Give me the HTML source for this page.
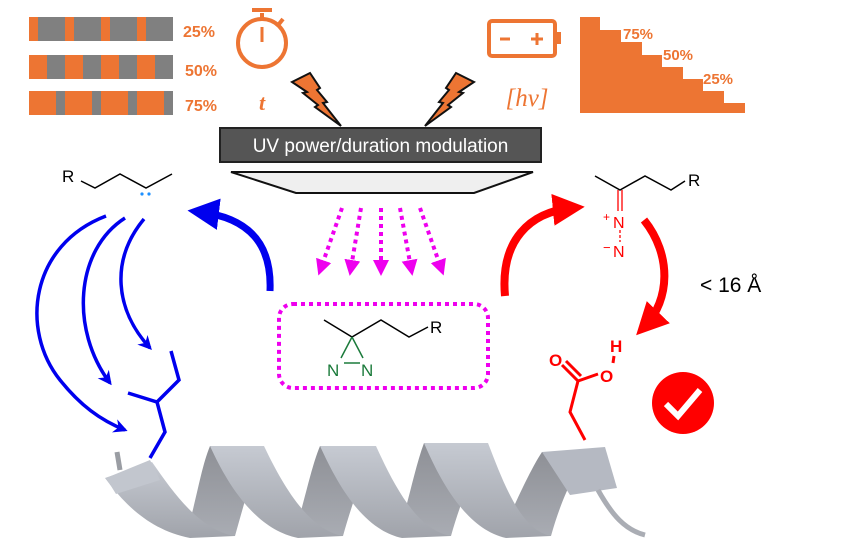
<!DOCTYPE html>
<html><head><meta charset="utf-8"><style>
html,body{margin:0;padding:0;background:#fff;}
svg{display:block;font-family:"Liberation Sans",sans-serif;}
</style></head><body>
<svg width="865" height="558" viewBox="0 0 865 558" xmlns="http://www.w3.org/2000/svg">
<defs>
<marker id="bh" viewBox="0 0 10 10" refX="8" refY="5" markerWidth="4" markerHeight="4" orient="auto"><path d="M0,0L10,5L0,10L3,5z" fill="#0000ee"/></marker>
<marker id="bh2" viewBox="0 0 10 10" refX="6" refY="5" markerWidth="4.5" markerHeight="4.5" orient="auto"><path d="M0,0L10,5L0,10z" fill="#0000ee"/></marker>
<marker id="rh" viewBox="0 0 10 10" refX="6" refY="5" markerWidth="4" markerHeight="4" orient="auto"><path d="M0,0L10,5L0,10z" fill="#ff0000"/></marker>
<marker id="mh" viewBox="0 0 10 10" refX="5" refY="5" markerWidth="4" markerHeight="4" orient="auto"><path d="M0,0L10,5L0,10z" fill="#ee00ee"/></marker>
<linearGradient id="fr" x1="0" y1="0" x2="0" y2="1"><stop offset="0" stop-color="#c6cad2"/><stop offset="1" stop-color="#a0a3aa"/></linearGradient>
<linearGradient id="bk" x1="0" y1="0" x2="0" y2="1"><stop offset="0" stop-color="#8e9096"/><stop offset="1" stop-color="#a9acb3"/></linearGradient>
</defs>

<!-- bars -->
<g>
<rect x="29" y="17" width="144" height="24" fill="#808080"/>
<rect x="29" y="17" width="9" height="24" fill="#ed7533"/><rect x="65" y="17" width="9" height="24" fill="#ed7533"/><rect x="101" y="17" width="9" height="24" fill="#ed7533"/><rect x="137" y="17" width="9" height="24" fill="#ed7533"/>
<rect x="29" y="55" width="144" height="24" fill="#808080"/>
<rect x="29" y="55" width="18" height="24" fill="#ed7533"/><rect x="65" y="55" width="18" height="24" fill="#ed7533"/><rect x="101" y="55" width="18" height="24" fill="#ed7533"/><rect x="137" y="55" width="18" height="24" fill="#ed7533"/>
<rect x="29" y="91" width="144" height="24" fill="#808080"/>
<rect x="29" y="91" width="27" height="24" fill="#ed7533"/><rect x="65" y="91" width="27" height="24" fill="#ed7533"/><rect x="101" y="91" width="27" height="24" fill="#ed7533"/><rect x="137" y="91" width="27" height="24" fill="#ed7533"/>
</g>
<g fill="#ed7533" font-weight="bold" font-size="16">
<text x="183" y="37">25%</text><text x="185" y="76">50%</text><text x="185" y="111">75%</text>
</g>
<!-- stopwatch -->
<g stroke="#ed7533" fill="none">
<circle cx="262" cy="43" r="24" stroke-width="4"/>
<line x1="262" y1="13" x2="262" y2="20" stroke-width="4"/>
<line x1="252" y1="10" x2="272" y2="10" stroke-width="4"/>
<line x1="279" y1="24" x2="283" y2="19" stroke-width="4"/>
<line x1="262" y1="27" x2="262" y2="42" stroke-width="3"/>
</g>
<text x="262" y="110" fill="#ed7533" font-family="Liberation Serif,serif" font-style="italic" font-weight="bold" font-size="22" text-anchor="middle">t</text>
<!-- battery -->
<rect x="489" y="21" width="66" height="35" rx="3" stroke="#ed7533" fill="none" stroke-width="4"/>
<rect x="556" y="32" width="5" height="12" fill="#ed7533"/>
<line x1="500" y1="39" x2="510" y2="39" stroke="#ed7533" stroke-width="3"/>
<line x1="531" y1="39" x2="543" y2="39" stroke="#ed7533" stroke-width="3"/>
<line x1="537" y1="33" x2="537" y2="45" stroke="#ed7533" stroke-width="3"/>
<text x="527" y="106" fill="#ed7533" font-family="Liberation Serif,serif" font-style="italic" font-size="25" text-anchor="middle">[hv]</text>
<!-- staircase -->
<polygon fill="#ed7533" points="580,17 600,17 600,30 621,30 621,42 642,42 642,55 662,55 662,67 683,67 683,79 703,79 703,91 724,91 724,103 745,103 745,113 580,113"/>
<g fill="#ed7533" font-weight="bold" font-size="15">
<text x="623" y="39">75%</text><text x="663" y="60">50%</text><text x="703" y="84">25%</text>
</g>
<!-- bolts -->
<g fill="#ed7533" stroke="#111" stroke-width="2">
<polygon points="292,82 310,73 320,88 317,90 327,102 323,103 341,126 315,107 318,105 303,93 307,92"/>
<polygon points="474,82 456,73 446,88 449,90 439,102 443,103 425,126 451,107 448,105 463,93 459,92"/>
</g>
<!-- UV box -->
<rect x="220" y="128" width="321" height="34" fill="#555" stroke="#222" stroke-width="2"/>
<text x="380.5" y="152" fill="#fff" font-size="19" text-anchor="middle">UV power/duration modulation</text>
<polygon points="231,172 533,172 474,193 296,193" fill="#efefef" stroke="#111" stroke-width="2"/>
<!-- magenta dotted arrows -->
<g stroke="#ee00ee" stroke-width="4" stroke-dasharray="4,4" fill="none" marker-end="url(#mh)">
<line x1="342" y1="208" x2="321" y2="268"/>
<line x1="361" y1="208" x2="351" y2="268"/>
<line x1="381" y1="208" x2="381" y2="268"/>
<line x1="400" y1="208" x2="411" y2="268"/>
<line x1="420" y1="208" x2="441" y2="268"/>
</g>
<rect x="279" y="304" width="209" height="84" rx="14" fill="none" stroke="#ee00ee" stroke-width="4" stroke-dasharray="4,4"/>
<!-- diazirine -->
<polyline points="324,320 352,337 381,320 409,337 428,327" fill="none" stroke="#000" stroke-width="1.5"/>
<text x="430" y="333" font-size="17">R</text>
<line x1="352" y1="337" x2="341" y2="358" stroke="#1a7a3a" stroke-width="1.5"/>
<line x1="352" y1="337" x2="363" y2="358" stroke="#1a7a3a" stroke-width="1.5"/>
<line x1="344" y1="363" x2="360" y2="363" stroke="#1a7a3a" stroke-width="1.5"/>
<g fill="#1a7a3a" font-size="17"><text x="327" y="376">N</text><text x="361" y="376">N</text></g>
<!-- left carbene -->
<text x="62" y="182" font-size="17">R</text>
<polyline points="81,181 95,188 120,174 146,188 172,174" fill="none" stroke="#000" stroke-width="1.5"/>
<circle cx="142" cy="194" r="1.6" fill="#1e90ff"/><circle cx="149" cy="194" r="1.6" fill="#1e90ff"/>
<!-- blue arrows -->
<g stroke="#0000ee" stroke-width="3.5" fill="none">
<path d="M106,216 C30,245 20,330 60,380 C80,405 100,420 125,430" marker-end="url(#bh)"/>
<path d="M125,218 C75,250 70,330 110,383" marker-end="url(#bh)"/>
<path d="M144,219 C110,260 115,310 150,348" marker-end="url(#bh)"/>
</g>
<path d="M270,291 C272,245 250,218 200,212" stroke="#0000ee" stroke-width="7" fill="none" marker-end="url(#bh2)"/>
<polyline points="171,351 179,380 157,402 128,393" fill="none" stroke="#0000ee" stroke-width="3.5"/>
<polyline points="157,402 165,432 150,458" fill="none" stroke="#0000ee" stroke-width="3.5"/>
<!-- red side -->
<path d="M505,296 C500,240 530,212 572,208" stroke="#ff0000" stroke-width="8" fill="none" marker-end="url(#rh)"/>
<polyline points="595,176 620,190 645,176 671,190 685,181" fill="none" stroke="#000" stroke-width="1.5"/>
<text x="688" y="186" font-size="17">R</text>
<line x1="618" y1="190" x2="618" y2="211" stroke="#ff0000" stroke-width="1.3"/>
<line x1="622" y1="190" x2="622" y2="211" stroke="#ff0000" stroke-width="1.3"/>
<line x1="620" y1="230" x2="620" y2="242" stroke="#ff0000" stroke-width="1.3" stroke-dasharray="3,2"/>
<g fill="#ff0000" font-size="16"><text x="613" y="228">N</text><text x="613" y="257">N</text><text x="603" y="221" font-size="12">+</text><text x="603" y="252" font-size="13">−</text></g>
<path d="M644,220 C672,255 670,300 645,326" stroke="#ff0000" stroke-width="8" fill="none" marker-end="url(#rh)"/>
<text x="700" y="292" font-size="21">&lt; 16 Å</text>
<g fill="#ff0000" font-size="17" font-weight="bold"><text x="610" y="352">H</text><text x="600" y="382">O</text><text x="549" y="366">O</text></g>
<line x1="614" y1="356" x2="613" y2="363" stroke="#ff0000" stroke-width="3"/>
<polyline points="598,374 578,381 570,412 585,440" fill="none" stroke="#ff0000" stroke-width="3"/>
<line x1="562" y1="365" x2="578" y2="381" stroke="#ff0000" stroke-width="3"/>
<line x1="566" y1="361" x2="581" y2="376" stroke="#ff0000" stroke-width="3"/>
<!-- check -->
<circle cx="683" cy="403" r="31" fill="#ff0000"/>
<polyline points="666,404 678,416 700,390" fill="none" stroke="#fff" stroke-width="6"/>
<!-- helix -->
<path d="M120,470 L117,452" stroke="#9a9da3" stroke-width="5"/>
<!-- back strips -->
<path d="M185,536 L235,536 C245,500 255,465 264,446 L210,446 C200,470 195,510 185,536 Z" fill="url(#bk)"/>
<path d="M293,536 L343,536 C353,500 366,465 376,446 L320,446 C310,470 303,510 293,536 Z" fill="url(#bk)"/>
<path d="M397,536 L451,536 C461,500 476,465 488,443 L424,443 C414,470 407,510 397,536 Z" fill="url(#bk)"/>
<path d="M501,536 L551,536 C561,500 575,470 590,452 L542,452 C530,470 512,510 501,536 Z" fill="url(#bk)"/>
<!-- front strips -->
<path d="M105,478 L152,462 C175,495 200,530 235,536 L190,538 C150,530 125,505 105,478 Z" fill="url(#fr)"/>
<path d="M210,446 L264,446 C285,490 310,530 343,536 L298,538 C258,530 230,490 210,446 Z" fill="url(#fr)"/>
<path d="M320,446 L376,446 C396,490 418,530 451,536 L402,538 C365,530 340,490 320,446 Z" fill="url(#fr)"/>
<path d="M424,443 L488,443 C506,490 522,530 551,536 L506,538 C470,530 444,490 424,443 Z" fill="url(#fr)"/>
<polygon points="542,452 605,447 617,488 570,495" fill="#b5b9c2"/>
<polygon points="106,478 150,460 160,480 116,494" fill="#c2c6ce"/>
<path d="M598,490 C612,515 625,530 645,535" stroke="#aaadb4" stroke-width="5" fill="none"/>
</svg>
</body></html>
